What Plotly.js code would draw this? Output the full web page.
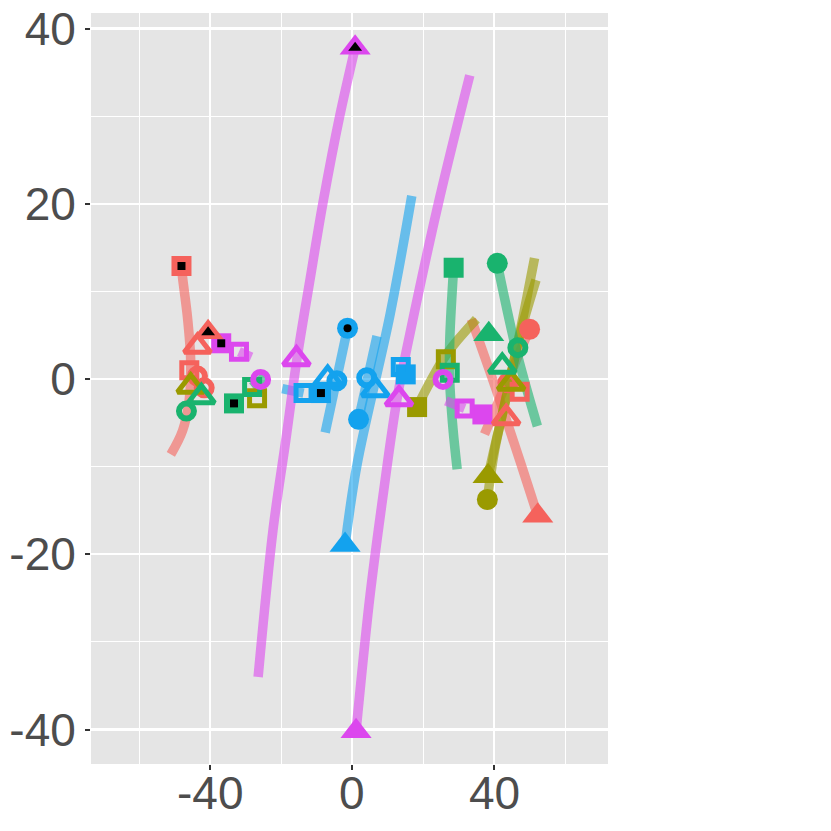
<!DOCTYPE html>
<html><head><meta charset="utf-8">
<script src="https://cdn.plot.ly/plotly-3.0.1.min.js"></script>
<style>html,body{margin:0;padding:0;background:#fff}</style>
</head><body><div id="chart" style="width:831px;height:831px"></div>
<script>
// ---------- data ----------
// marker kinds: FS filled square, FC filled circle, FT filled triangle,
// BS/BC/BT filled shape with black centre, OS/OC/OT open shapes
const redX = [-48.1, -40.6, -43.6, 43.4, -45.9, 47.2, -43.6, -41.7, 43.9, 50.0, 52.3];
const redY = [12.9, 5.35, 3.7, -4.44, 0.99, -1.45, 0.34, -1.0, -0.42, 5.68, -15.6];
const redKind = ['BS', 'BT', 'OT', 'OT', 'OS', 'OS', 'OC', 'OC', 'OC', 'FC', 'FT'];

const oliveX = [-45.5, 44.8, -26.8, 26.4, 18.3, 38.3, 38.1];
const oliveY = [-0.84, -0.5, -2.2, 2.25, -3.2, -11.1, -13.75];
const oliveKind = ['OT', 'OT', 'OS', 'OS', 'FS', 'FT', 'FC'];

const greenX = [28.6, 40.9, 38.5, -46.7, 46.7, -42.5, 42.3, -28.2, 27.5, -33.3];
const greenY = [12.7, 13.2, 5.1, -3.66, 3.58, -2.04, 1.43, -0.91, 0.72, -2.78];
const greenKind = ['FS', 'FC', 'FT', 'OC', 'OC', 'OT', 'OT', 'OS', 'OS', 'BS'];

const blueX = [-1.3, -13.7, 13.7, -8.8, -6.9, 6.5, -4.3, 4.1, 1.8, 15.1, -2.0];
const blueY = [5.8, -1.6, 1.37, -1.6, 0.06, -1.24, -0.2, 0.15, -4.6, 0.53, -18.95];
const blueKind = ['BC', 'OS', 'OS', 'BS', 'OT', 'OT', 'OC', 'OC', 'FC', 'FS', 'FT'];

const magentaX = [-36.9, -31.9, 31.7, -25.8, 25.6, -15.7, 13.2, 36.7, 0.84, 1.1];
const magentaY = [4.08, 3.12, -3.35, -0.04, -0.04, 2.28, -2.29, -4.04, 37.8, -40.2];
const magentaKind = ['BS', 'OS', 'OS', 'OC', 'OC', 'OT', 'OT', 'FS', 'BT', 'FT'];

// paths
const redPath1X = [-48.1, -47.8, -46.4, -45.5, -45.95, -47.8, -51.1];
const redPath1Y = [12.9, 11.6, 7.0, 2.06, -2.5, -5.9, -8.6];
const redPath2X = [33.6, 41.0, 47.6, 52.3];
const redPath2Y = [6.82, -1.71, -9.71, -15.6];
const redPath3X = [50.0, 37.3];
const redPath3Y = [5.7, -6.3];

const olivePath1X = [18.3, 26.6, 35.0];
const olivePath1Y = [-3.2, 2.82, 6.82];
const olivePath2X = [51.4, 47.2, 43.8, 40.1, 38.1];
const olivePath2Y = [13.8, 5.14, -1.37, -8.23, -13.75];
const olivePath3X = [51.8, 47.0, 43.6, 40.3, 38.3];
const olivePath3Y = [11.3, 4.6, -1.8, -7.5, -11.1];

const greenPath1X = [28.6, 27.5, 27.5, 28.4, 29.6];
const greenPath1Y = [12.7, 4.34, -0.23, -5.6, -10.3];
const greenPath2X = [40.9, 46.3, 52.2];
const greenPath2Y = [13.2, 3.2, -5.37];
const greenPath3X = [-28.2, -24.0];
const greenPath3Y = [-0.91, 0.5];

const bluePath1X = [-1.3, -7.6];
const bluePath1Y = [5.8, -6.1];
const bluePath2X = [16.8, 10.7, 1.4, -2.0];
const bluePath2Y = [20.9, 7.4, -9.7, -18.95];
const bluePath3X = [7.0, 1.8];
const bluePath3Y = [4.9, -4.6];
const bluePath4X = [-19.7, -13.7];
const bluePath4Y = [-1.1, -1.6];

const magentaPath1X = [0.84, -3.46, -8.25, -11.9, -15.6, -18.7, -22.3, -26.5];
const magentaPath1Y = [37.8, 30.1, 20.07, 11.3, 2.17, -6.96, -17.2, -34.0];
const magentaPath2X = [33.15, 24.7, 16.5, 12.6, 8.65, 4.99, 1.6, 1.1];
const magentaPath2Y = [34.66, 20.75, 5.59, -2.39, -13.45, -24.85, -38.1, -40.2];
const magentaPath3X = [-31.9, -28.4];
const magentaPath3Y = [3.12, 2.5];
const magentaPath4X = [26.4, 31.7];
const magentaPath4Y = [-2.5, -3.35];

const xTickVals = [-40, 0, 40];
const xTickText = ['-40', '0', '40'];
const xMinorVals = [-60, -20, 20, 60];
const yTickVals = [-40, -20, 0, 20, 40];
const yTickText = ['-40', '-20', '0', '20', '40'];
const yMinorVals = [-30, -10, 10, 30];

// ---------- styling ----------
const COL = {
  red: '#F5625C', olive: '#9A9A00', green: '#19B36E', blue: '#13A2EE', magenta: '#DC47EE'
};
const groups = [
  {c: COL.red, x: redX, y: redY, k: redKind,
   paths: [[redPath1X, redPath1Y], [redPath2X, redPath2Y], [redPath3X, redPath3Y]]},
  {c: COL.olive, x: oliveX, y: oliveY, k: oliveKind,
   paths: [[olivePath1X, olivePath1Y], [olivePath2X, olivePath2Y], [olivePath3X, olivePath3Y]]},
  {c: COL.green, x: greenX, y: greenY, k: greenKind,
   paths: [[greenPath1X, greenPath1Y], [greenPath2X, greenPath2Y], [greenPath3X, greenPath3Y]]},
  {c: COL.blue, x: blueX, y: blueY, k: blueKind,
   paths: [[bluePath1X, bluePath1Y], [bluePath2X, bluePath2Y], [bluePath3X, bluePath3Y], [bluePath4X, bluePath4Y]]},
  {c: COL.magenta, x: magentaX, y: magentaY, k: magentaKind,
   paths: [[magentaPath1X, magentaPath1Y], [magentaPath2X, magentaPath2Y], [magentaPath3X, magentaPath3Y], [magentaPath4X, magentaPath4Y]]}
];

const traces = [];
// lines first
groups.forEach(g => {
  g.paths.forEach(p => {
    traces.push({type: 'scatter', mode: 'lines', x: p[0], y: p[1],
      line: {color: g.c, width: 9.5, shape: 'spline', smoothing: 1},
      opacity: 0.6, hoverinfo: 'skip', showlegend: false});
  });
});

const kindStyle = {
  FS: {symbol: 'square', size: 20},
  FC: {symbol: 'circle', size: 21},
  FT: {symbol: 'triangle-up', size: 27},
  BS: {symbol: 'square', size: 20, inner: {symbol: 'square', size: 8}},
  BC: {symbol: 'circle', size: 21, inner: {symbol: 'circle', size: 8}},
  BT: {symbol: 'triangle-up', size: 27, inner: {symbol: 'triangle-up', size: 12}},
  OS: {symbol: 'square-open', size: 15, lw: 5},
  OC: {symbol: 'circle-open', size: 15, lw: 6},
  OT: {symbol: 'triangle-up-open', size: 23, lw: 5}
};
const kindOrder = ['FS', 'FC', 'FT', 'BS', 'BC', 'BT', 'OS', 'OC', 'OT'];

kindOrder.forEach(kind => {
  const st = kindStyle[kind];
  groups.forEach(g => {
    const xs = [], ys = [];
    g.k.forEach((k, i) => { if (k === kind) { xs.push(g.x[i]); ys.push(g.y[i]); } });
    if (!xs.length) return;
    const open = kind[0] === 'O';
    traces.push({type: 'scatter', mode: 'markers', x: xs, y: ys,
      marker: {symbol: st.symbol, size: st.size, color: g.c,
               line: open ? {color: g.c, width: st.lw} : {width: 0}},
      hoverinfo: 'skip', showlegend: false});
    if (st.inner) {
      traces.push({type: 'scatter', mode: 'markers', x: xs, y: ys,
        marker: {symbol: st.inner.symbol, size: st.inner.size, color: '#000000', line: {width: 0}},
        hoverinfo: 'skip', showlegend: false});
    }
  });
});

const tickFont = {family: 'Liberation Sans, Arial, sans-serif', size: 46, color: '#4D4D4D'};

// x tick labels placed through the x scale, just below the panel
const annotations = xTickVals.map((v, i) => ({
  x: v, xref: 'x', y: 0, yref: 'paper', yanchor: 'top', xanchor: 'center',
  yshift: -1, text: xTickText[i], showarrow: false, font: tickFont
}));

const layout = {
  width: 831, height: 831,
  margin: {l: 91, r: 223, t: 13, b: 67, pad: 0},
  paper_bgcolor: '#FFFFFF', plot_bgcolor: '#E5E5E5',
  showlegend: false,
  annotations: annotations,
  xaxis: {range: [-73.6, 72.1], tickmode: 'array', tickvals: xTickVals, ticktext: xTickText,
    showticklabels: false,
    ticks: 'outside', ticklen: 5, tickwidth: 2, tickcolor: '#333333',
    showgrid: true, gridcolor: '#FFFFFF', gridwidth: 2.2, zeroline: false, showline: false,
    tickfont: tickFont,
    minor: {tickmode: 'array', tickvals: xMinorVals, showgrid: true, gridcolor: '#FFFFFF', gridwidth: 1.1, ticks: ''}},
  yaxis: {range: [-43.93, 41.77], tickmode: 'array', tickvals: yTickVals, ticktext: yTickText,
    ticks: 'outside', ticklen: 5, tickwidth: 2, tickcolor: '#333333',
    showgrid: true, gridcolor: '#FFFFFF', gridwidth: 2.2, zeroline: false, showline: false,
    tickfont: tickFont,
    minor: {tickmode: 'array', tickvals: yMinorVals, showgrid: true, gridcolor: '#FFFFFF', gridwidth: 1.1, ticks: ''}}
};

Plotly.newPlot('chart', traces, layout, {staticPlot: true, displayModeBar: false});
</script>
</body></html>
